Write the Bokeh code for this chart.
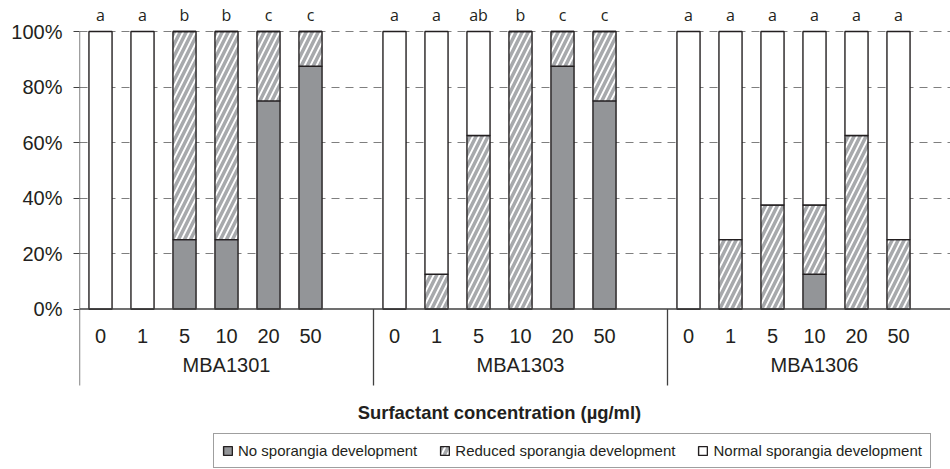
from bokeh.plotting import figure
from bokeh.models import Range1d, FixedTicker, ColumnDataSource, Legend, LegendItem
from bokeh.core.properties import value
from bokeh.embed import file_html
from bokeh.resources import INLINE

strains = ["MBA1301", "MBA1303", "MBA1306"]
concentrations = ["0", "1", "5", "10", "20", "50"]
no_dev = [[0, 0, 25, 25, 75, 87.5],
          [0, 0, 0, 0, 87.5, 75],
          [0, 0, 0, 12.5, 0, 0]]
reduced = [[0, 0, 75, 75, 25, 12.5],
           [0, 12.5, 62.5, 100, 12.5, 25],
           [0, 25, 37.5, 25, 62.5, 25]]
normal = [[100, 100, 0, 0, 0, 0],
          [100, 87.5, 37.5, 0, 0, 0],
          [100, 75, 62.5, 62.5, 37.5, 75]]
letters = [["a", "a", "b", "b", "c", "c"],
           ["a", "a", "ab", "b", "c", "c"],
           ["a", "a", "a", "a", "a", "a"]]
y_ticks = [0, 20, 40, 60, 80, 100]
y_tick_labels = ["0%", "20%", "40%", "60%", "80%", "100%"]
x_title = "Surfactant concentration (µg/ml)"
legend_labels = ["No sporangia development", "Reduced sporangia development", "Normal sporangia development"]

SLOTS = 7  # 6 bars + 1 blank slot per group
xs, b0, t0, b1, t1, b2, t2, conc_lab, let_lab = [], [], [], [], [], [], [], [], []
for g in range(len(strains)):
    for j in range(len(concentrations)):
        xs.append(g * SLOTS + j + 0.5)
        n, r, m = no_dev[g][j], reduced[g][j], normal[g][j]
        b0.append(0); t0.append(n)
        b1.append(n); t1.append(n + r)
        b2.append(n + r); t2.append(n + r + m)
        conc_lab.append(concentrations[j])
        let_lab.append(letters[g][j])

PX = 2.775
W, H = 950, 469
LEFT = 79
ZERO = 308.5
XMAX = (W - LEFT) / 42.0


def ypix(py):
    return (ZERO - py) / PX


src = ColumnDataSource(dict(x=xs, b0=b0, t0=t0, b1=b1, t1=t1, b2=b2, t2=t2,
                            conc=conc_lab, let=let_lab,
                            ylab=[ypix(335)] * len(xs), ylet=[ypix(14.5)] * len(xs)))

p = figure(width=W, height=H, output_backend="svg", toolbar_location=None,
           x_range=Range1d(0, XMAX), y_range=Range1d(ypix(H), ypix(0)),
           x_axis_location=None, min_border_left=LEFT, min_border_right=0,
           min_border_top=0, min_border_bottom=0)
p.outline_line_color = None
p.xgrid.visible = False
p.ygrid.ticker = FixedTicker(ticks=y_ticks[1:])
p.ygrid.grid_line_color = "#7f7f7f"
p.ygrid.grid_line_dash = "8 6"
p.ygrid.grid_line_width = 1

ax = p.yaxis[0]
ax.ticker = FixedTicker(ticks=y_ticks)
ax.major_label_overrides = {t: l for t, l in zip(y_ticks, y_tick_labels)}
ax.axis_line_color = None
ax.major_tick_in = 0
ax.major_tick_out = 6
ax.major_tick_line_color = "#404040"
ax.minor_tick_line_color = None
ax.major_label_standoff = 11
ax.major_label_text_font = "Liberation Sans"
ax.major_label_text_font_size = "20px"
ax.major_label_text_color = "#231f20"

line_kw = dict(line_color="#231f20", line_width=1.4)
r0 = p.vbar(x="x", bottom="b0", top="t0", width=0.55, source=src,
            fill_color="#939598", **line_kw)
r1 = p.vbar(x="x", bottom="b1", top="t1", width=0.55, source=src,
            fill_color="white", hatch_pattern="/", hatch_color="#a7a9ac",
            hatch_weight=3.5, hatch_scale=12, **line_kw)
r2 = p.vbar(x="x", bottom="b2", top="t2", width=0.55, source=src,
            fill_color="white", **line_kw)

# axis lines and group separators
sep_bottom = ypix(385)
seps = [g * SLOTS for g in range(1, len(strains))]
p.segment(x0=[0], y0=[sep_bottom], x1=[0], y1=[100], line_color="#404040", line_width=1.3)
p.segment(x0=seps, y0=[sep_bottom] * len(seps), x1=seps, y1=[0] * len(seps),
          line_color="#404040", line_width=1.3)
p.segment(x0=[0], y0=[0], x1=[XMAX], y1=[0], line_color="#404040", line_width=1.3)

p.text(x="x", y="ylab", text="conc", source=src, text_align="center",
       text_baseline="middle", text_font=value("Liberation Sans"),
       text_font_size="20px", text_color="#231f20")
p.text(x="x", y="ylet", text="let", source=src, text_align="center",
       text_baseline="middle", text_font=value("Open Sans"),
       text_font_size="16px", text_color="#231f20")
p.text(x=[g * SLOTS + 3.5 for g in range(len(strains))], y=[ypix(364.5)] * len(strains),
       text=strains, text_align="center", text_baseline="middle",
       text_font=value("Liberation Sans"), text_font_size="20px", text_color="#231f20")
p.text(x=[10], y=[ypix(412)], text=[x_title], text_align="center", text_baseline="middle",
       text_font=value("Liberation Sans"), text_font_style="bold",
       text_font_size="18.4px", text_color="#231f20")

legend = Legend(items=[LegendItem(label=legend_labels[0], renderers=[r0]),
                       LegendItem(label=legend_labels[1], renderers=[r1]),
                       LegendItem(label=legend_labels[2], renderers=[r2])],
                orientation="horizontal", location=(134, 1))
legend.border_line_color = "#404040"
legend.border_line_width = 1
legend.label_text_font = "Liberation Sans"
legend.label_text_font_size = "15px"
legend.label_text_color = "#231f20"
legend.glyph_width = 11
legend.glyph_height = 11
legend.label_standoff = 5
legend.spacing = 22
legend.padding = 8
legend.margin = 0
legend.label_height = 16
p.add_layout(legend)

open("out.html", "w").write(file_html(p, INLINE))
